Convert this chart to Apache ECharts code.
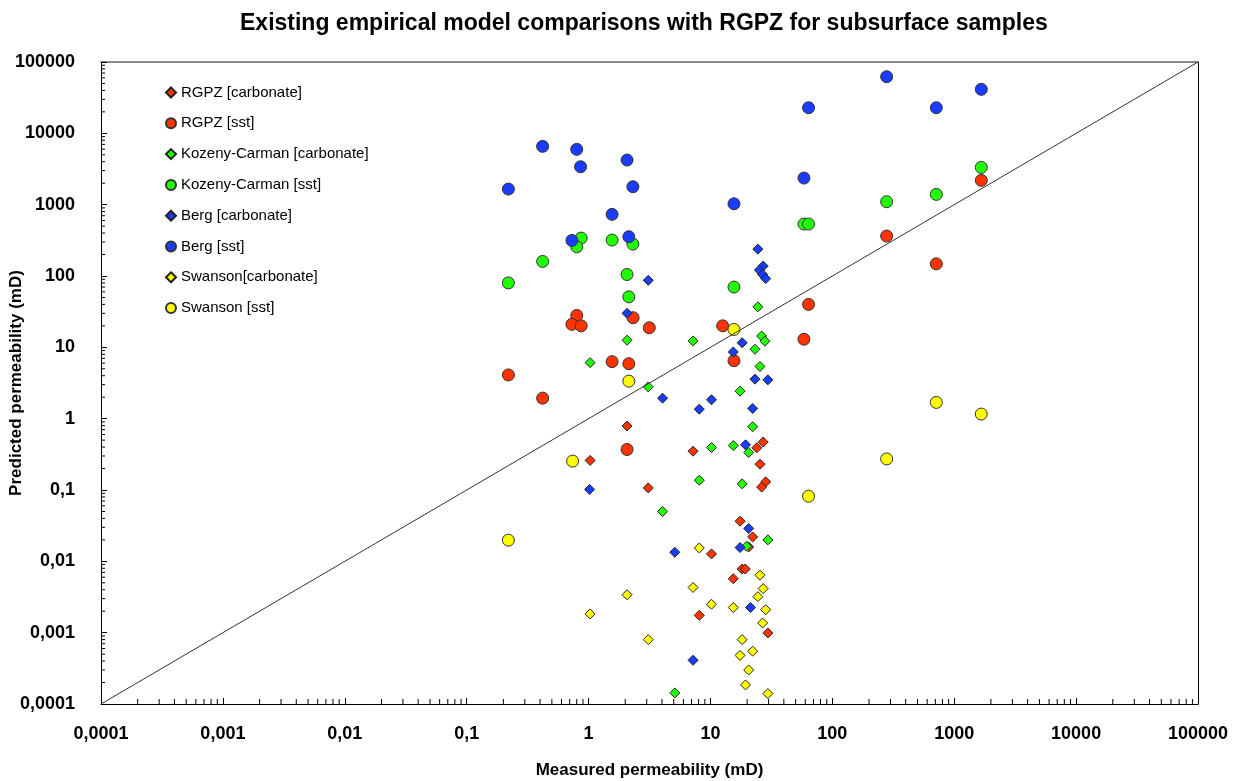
<!DOCTYPE html>
<html>
<head>
<meta charset="utf-8">
<script src="https://cdn.jsdelivr.net/npm/echarts@6/dist/echarts.min.js"></script>
<style>
  html, body { margin: 0; padding: 0; background: #fff; }
  #chart { width: 1235px; height: 781px; }
</style>
</head>
<body>
<div id="chart"></div>
<script>
// tick labels, decimal comma as in the source
var tickLabels = ['0,0001', '0,001', '0,01', '0,1', '1', '10', '100', '1000', '10000', '100000'];

// [measured, predicted] in mD
var rgpzCarbonate = [[2.07, 0.79], [7.2, 0.35], [1.03, 0.26], [24.0, 0.39], [27.1, 0.47], [25.5, 0.23],
    [28.4, 0.13], [26.3, 0.11], [3.09, 0.107], [17.5, 0.0365], [22.2, 0.022], [20.6, 0.0159],
    [10.2, 0.0127], [18.2, 0.0078], [19.3, 0.0078], [15.4, 0.0057], [8.1, 0.00175], [29.6, 0.00099]];
var rgpzSst = [[0.8, 28], [0.73, 21], [0.87, 20], [2.32, 26], [3.15, 18.8], [12.6, 20], [63.8, 40],
    [58.5, 13], [15.6, 6.5], [1.56, 6.3], [2.14, 5.9], [0.22, 4.1], [0.42, 1.94], [2.07, 0.37],
    [1667, 2190], [279, 363], [713, 148]];
var kozenyCarbonate = [[24.5, 37], [7.2, 12.3], [2.07, 12.6], [1.03, 6.1], [26.3, 14.4], [28.0, 12.2],
    [23.2, 9.4], [25.5, 5.4], [3.09, 2.79], [17.5, 2.43], [22.2, 0.77], [10.2, 0.394], [15.4, 0.42],
    [20.6, 0.336], [8.1, 0.137], [18.2, 0.122], [4.05, 0.05], [29.6, 0.02], [19.8, 0.0163], [5.1, 0.000143]];
var kozenySst = [[0.22, 80], [0.42, 160], [0.87, 340], [0.8, 257], [1.56, 319], [2.31, 280], [2.07, 105],
    [2.14, 51], [15.6, 70], [58.5, 535], [63.8, 535], [279, 1100], [713, 1394], [1667, 3330]];
var bergCarbonate = [[24.5, 238], [27.1, 138], [25.2, 121], [26.8, 105], [28.4, 92], [3.09, 87], [2.07, 30],
    [18.2, 11.6], [15.4, 8.6], [23.2, 3.58], [29.6, 3.5], [4.05, 1.94], [10.2, 1.84], [8.1, 1.36],
    [22.2, 1.39], [19.4, 0.43], [1.02, 0.102], [20.6, 0.0289], [17.5, 0.0156], [5.1, 0.0134],
    [21.3, 0.00225], [7.2, 0.00041]];
var bergSst = [[0.42, 6570], [0.8, 5960], [0.86, 3400], [2.07, 4225], [0.22, 1655], [2.31, 1783],
    [1.56, 731], [15.6, 1030], [63.8, 22860], [58.5, 2360], [0.73, 315], [2.14, 355], [279, 62200],
    [1667, 41400], [713, 22860]];
var swansonCarbonate = [[8.1, 0.0154], [25.5, 0.0064], [7.2, 0.0043], [27.1, 0.00415], [24.5, 0.0032],
    [2.07, 0.0034], [10.2, 0.0025], [15.4, 0.00225], [28.4, 0.0021], [1.03, 0.00183], [26.8, 0.00137],
    [3.09, 0.0008], [18.2, 0.0008], [22.2, 0.00055], [17.5, 0.00048], [20.6, 0.0003], [19.4, 0.000185],
    [29.6, 0.00014]];
var swansonSst = [[15.6, 17.8], [2.14, 3.36], [0.74, 0.254], [0.22, 0.0198], [63.8, 0.082], [279, 0.273],
    [713, 1.69], [1667, 1.16]];

var oneToOne = [[0.0001, 0.0001], [100000, 100000]];

var RED = '#ff3300', GREEN = '#22ff00', BLUE = '#1a3cff', YELLOW = '#ffff00';
var FONT = 'Liberation Sans, Arial, sans-serif';

// minor tick positions 2..9 in each decade
var minorTicks = [];
for (var d = -4; d < 5; d++) {
    for (var m = 2; m < 10; m++) {
        minorTicks.push(m * Math.pow(10, d));
    }
}
var xMinor = minorTicks.map(function (v) { return [v, 0.0001]; });
var yMinor = minorTicks.map(function (v) { return [0.0001, v]; });

function fmt(v) {
    return tickLabels[Math.round(Math.log10(v)) + 4];
}

function scatter(name, data, color, shape) {
    var isDiamond = shape === 'diamond';
    return {
        name: name,
        type: 'scatter',
        data: data,
        symbol: shape,
        symbolSize: isDiamond ? 10 : 12,
        itemStyle: {
            color: color,
            borderColor: isDiamond ? '#222' : '#333',
            borderWidth: 1,
            opacity: 1
        }
    };
}

var chart = echarts.init(document.getElementById('chart'));

var option = {
    animation: false,
    backgroundColor: '#fff',
    title: {
        text: 'Existing empirical model comparisons with RGPZ for subsurface samples',
        left: 235,
        top: 7,
        textStyle: { fontFamily: FONT, fontSize: 23, fontWeight: 'bold', color: '#000' }
    },
    legend: {
        orient: 'vertical',
        left: 160,
        top: 80,
        itemWidth: 10,
        itemHeight: 10,
        itemGap: 15.8,
        textStyle: { fontFamily: FONT, fontSize: 15, color: '#000', lineHeight: 15 },
        data: ['RGPZ [carbonate]', 'RGPZ [sst]', 'Kozeny-Carman [carbonate]', 'Kozeny-Carman [sst]',
            'Berg [carbonate]', 'Berg [sst]', 'Swanson[carbonate]', 'Swanson [sst]']
    },
    grid: {
        left: 101,
        right: 37,
        top: 62,
        bottom: 77,
        show: false,
        containLabel: false,
        outerBoundsMode: 'none'
    },
    xAxis: [{
        type: 'log',
        logBase: 10,
        min: 0.0001,
        max: 100000,
        interval: 1,
        name: 'Measured permeability (mD)',
        nameLocation: 'middle',
        nameGap: 58,
        nameMoveOverlap: false,
        nameTextStyle: { fontFamily: FONT, fontSize: 17, fontWeight: 'bold', color: '#000' },
        axisLine: { lineStyle: { color: '#000', width: 1 } },
        axisTick: { inside: true, length: 6, lineStyle: { color: '#000' } },
        axisLabel: {
            formatter: fmt, margin: 21, color: '#000',
            fontFamily: FONT, fontSize: 18, fontWeight: 'bold',
            showMinLabel: true, showMaxLabel: true
        },
        splitLine: { show: false }
    }, {
        type: 'value',
        position: 'top',
        min: 0, max: 1,
        axisLine: { show: true, onZero: false, lineStyle: { color: '#888', width: 2 } },
        axisTick: { show: false },
        axisLabel: { show: false },
        splitLine: { show: false }
    }],
    yAxis: [{
        type: 'log',
        logBase: 10,
        min: 0.0001,
        max: 100000,
        interval: 1,
        name: 'Predicted permeability (mD)',
        nameLocation: 'middle',
        nameGap: 76,
        nameMoveOverlap: false,
        nameTextStyle: { fontFamily: FONT, fontSize: 17, fontWeight: 'bold', color: '#000' },
        axisLine: { show: true, lineStyle: { color: '#000', width: 1 } },
        axisTick: { inside: true, length: 6, lineStyle: { color: '#000' } },
        axisLabel: {
            formatter: fmt, margin: 26, color: '#000',
            fontFamily: FONT, fontSize: 18, fontWeight: 'bold',
            showMinLabel: true, showMaxLabel: true
        },
        splitLine: { show: false }
    }, {
        type: 'value',
        position: 'right',
        min: 0, max: 1,
        axisLine: { show: true, onZero: false, lineStyle: { color: '#000', width: 1 } },
        axisTick: { show: false },
        axisLabel: { show: false },
        splitLine: { show: false }
    }],
    series: [
        {
            name: 'minorX',
            type: 'custom',
            silent: true,
            data: xMinor,
            renderItem: function (params, api) {
                var p = api.coord([api.value(0), api.value(1)]);
                return {
                    type: 'line',
                    shape: { x1: p[0], y1: p[1], x2: p[0], y2: p[1] - 5 },
                    style: { stroke: '#000', lineWidth: 1 }
                };
            }
        },
        {
            name: 'minorY',
            type: 'custom',
            silent: true,
            data: yMinor,
            renderItem: function (params, api) {
                var p = api.coord([api.value(0), api.value(1)]);
                return {
                    type: 'line',
                    shape: { x1: p[0], y1: p[1], x2: p[0] + 4, y2: p[1] },
                    style: { stroke: '#000', lineWidth: 1 }
                };
            }
        },
        {
            name: '1:1',
            type: 'line',
            data: oneToOne,
            symbol: 'none',
            silent: true,
            lineStyle: { color: '#333', width: 1 }
        },
        scatter('RGPZ [carbonate]', rgpzCarbonate, RED, 'diamond'),
        scatter('RGPZ [sst]', rgpzSst, RED, 'circle'),
        scatter('Kozeny-Carman [carbonate]', kozenyCarbonate, GREEN, 'diamond'),
        scatter('Kozeny-Carman [sst]', kozenySst, GREEN, 'circle'),
        scatter('Berg [carbonate]', bergCarbonate, BLUE, 'diamond'),
        scatter('Berg [sst]', bergSst, BLUE, 'circle'),
        scatter('Swanson[carbonate]', swansonCarbonate, YELLOW, 'diamond'),
        scatter('Swanson [sst]', swansonSst, YELLOW, 'circle')
    ]
};

chart.setOption(option);
</script>
</body>
</html>
